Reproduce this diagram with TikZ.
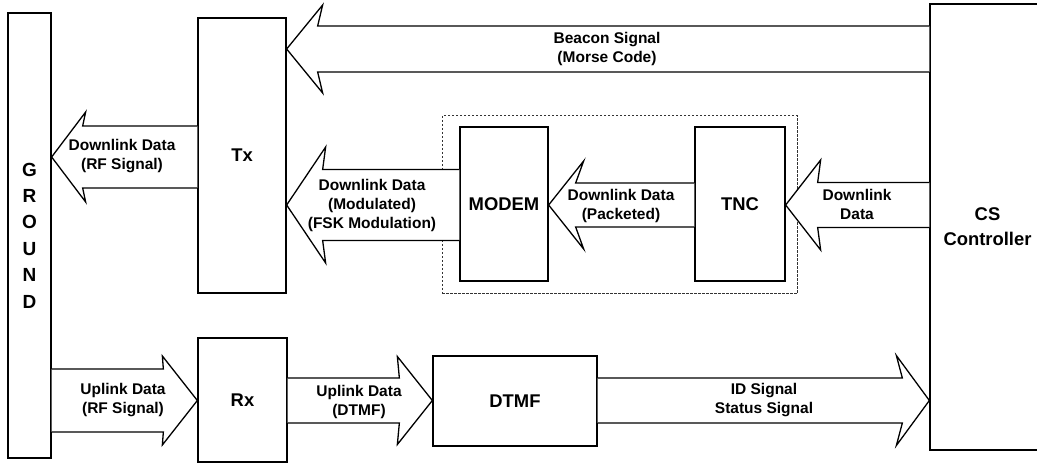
\documentclass[tikz,border=0pt]{standalone}
\usepackage{fontspec}
\setmainfont{Liberation Sans}
\usetikzlibrary{calc}
\tikzset{
  box/.style={draw, line width=1.3pt, inner sep=0pt, align=center,
    font=\fontsize{18.4}{25}\selectfont\bfseries},
  lbl/.style={inner sep=0pt, align=center, font=\fontsize{15.5}{19}\selectfont\bfseries},
  barrow/.style={draw, fill=white, line width=1.3pt, line join=miter},
  groupbox/.style={draw=black!80, line width=1pt, dash pattern=on 2.5pt off 1.5pt, inner sep=0pt},
}
% tail, tip, dir, yc, h, H, len, inset
\newcommand\blockarrow[8]{%
  \path[barrow] let \p1=(#1), \p2=(#2) in
   (\x1,{#4+#5}) -- ({\x2+(#3)*(#7-#8)},{#4+#5}) -- ({\x2+(#3)*(#7)},{#4+#6})
   -- (\x2,#4) -- ({\x2+(#3)*(#7)},{#4-#6}) -- ({\x2+(#3)*(#7-#8)},{#4-#5})
   -- (\x1,{#4-#5});}
\begin{document}
\begin{tikzpicture}[x=1pt,y=1pt]
\useasboundingbox (0,0) rectangle (1037,463);
\clip (0,0) rectangle (1037,463);
% group (dotted)
\node[groupbox, minimum width=355pt, minimum height=178pt] (grp) at (619.5,258) {};
% boxes
\node[box, minimum width=43pt, minimum height=445pt, font=\fontsize{19}{26.4}\selectfont\bfseries] (ground) at (29.5,227.5) {G\\R\\O\\U\\N\\D};
\node[box, minimum width=88pt, minimum height=275pt] (tx) at (242,307.5) {Tx};
\node[box, minimum width=89pt, minimum height=124pt] (rx) at (242.5,63) {Rx};
\node[box, minimum width=88pt, minimum height=154pt] (modem) at (504,259) {MODEM};
\node[box, minimum width=90pt, minimum height=154pt] (tnc) at (740,259) {TNC};
\node[box, minimum width=164pt, minimum height=90pt] (dtmf) at (515,62) {DTMF};
\node[box, minimum width=115pt, minimum height=446pt] (cs) at (987.5,236) {CS\\Controller};
% arrows
\blockarrow{cs.west}{tx.east}{1}{414}{23}{44}{36}{5}
\blockarrow{tx.west}{ground.east}{1}{306}{31}{45}{34}{3}
\blockarrow{modem.west}{tx.east}{1}{258}{35.5}{58}{39}{3}
\blockarrow{tnc.west}{modem.east}{1}{258}{22}{44}{35}{8}
\blockarrow{cs.west}{tnc.east}{1}{258}{22.5}{45}{35}{3}
\blockarrow{ground.east}{rx.west}{-1}{62.5}{31.5}{44.5}{35}{1}
\blockarrow{rx.east}{dtmf.west}{-1}{62.5}{22.5}{44}{35}{2}
\blockarrow{dtmf.east}{cs.west}{-1}{62.5}{22.5}{45}{33}{6}
% labels
\node[lbl] (lbeacon) at (607,414) {Beacon Signal\\(Morse Code)};
\node[lbl] (ldlrf) at (122,307) {Downlink Data\\(RF Signal)};
\node[lbl] (lmod) at (372,258) {Downlink Data\\(Modulated)\\(FSK Modulation)};
\node[lbl] (lpack) at (621,257.5) {Downlink Data\\(Packeted)};
\node[lbl] (ldl) at (857,259) {Downlink\\Data};
\node[lbl] (lulrf) at (123,62.5) {Uplink Data\\(RF Signal)};
\node[lbl] (ldtmf) at (359,61.5) {Uplink Data\\(DTMF)};
\node[lbl] (lid) at (764,62.5) {ID Signal\\Status Signal};
\end{tikzpicture}
\end{document}
